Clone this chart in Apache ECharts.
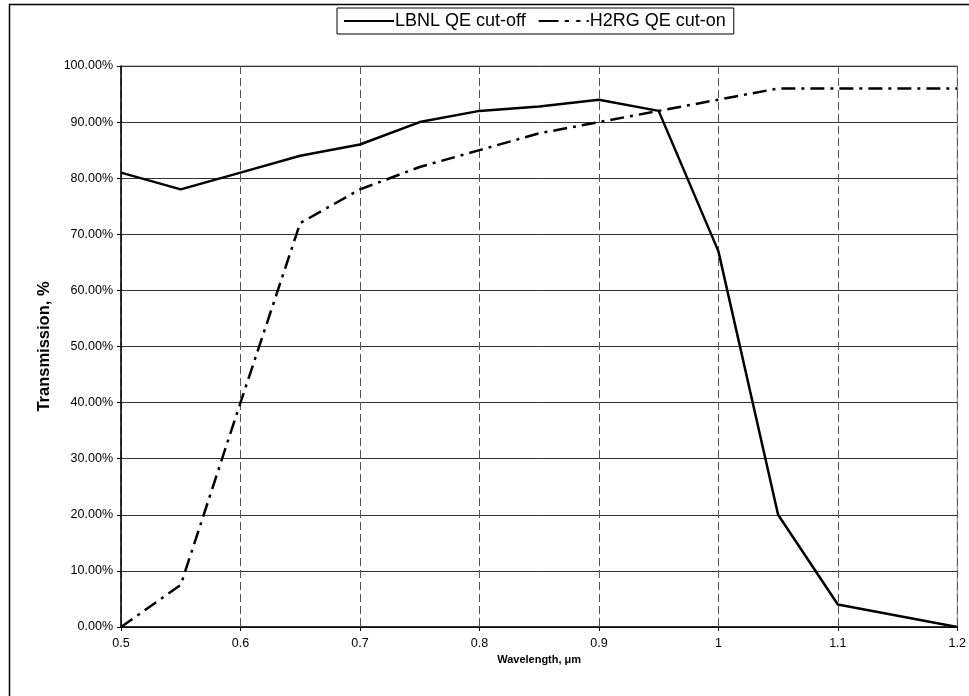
<!DOCTYPE html>
<html>
<head>
<meta charset="utf-8">
<script src="https://cdn.jsdelivr.net/npm/echarts@6/dist/echarts.min.js"></script>
<style>
    html, body { margin: 0; padding: 0; background: #fff; }
    #chart { width: 969px; height: 696px; }
</style>
</head>
<body>
<div id="chart"></div>
<script>
// wavelength in micrometres
const wavelength = [0.5, 0.55, 0.6, 0.65, 0.7, 0.75, 0.8, 0.85, 0.9, 0.95, 1.0, 1.05, 1.1, 1.2];
const lbnlCutOff = [81, 78, 81, 84, 86, 90, 92, 92.8, 94, 92, 67, 20, 4, 0];

const h2rgWave = [0.5, 0.55, 0.6, 0.65, 0.7, 0.75, 0.8, 0.85, 0.9, 0.95, 1.0, 1.05, 1.1, 1.15, 1.2];
const h2rgCutOn = [0, 7.5, 40, 72, 78, 82, 85, 88, 90, 92, 94, 96, 96, 96, 96];

const seriesNames = ['LBNL QE cut-off', 'H2RG QE cut-on'];

const pairs = (xs, ys) => xs.map((x, i) => [x, ys[i]]);

const chart = echarts.init(document.getElementById('chart'));

const option = {
    animation: false,
    textStyle: { fontFamily: '"Liberation Sans", Arial, sans-serif', color: '#000' },
    graphic: [{
        type: 'rect',
        shape: { x: 9.5, y: 4.5, width: 1100, height: 1100 },
        style: { fill: 'none', stroke: '#000', lineWidth: 1.5 },
        silent: true
    }],
    legend: {
        top: 8,
        left: 337,
        data: [
            { name: seriesNames[0], icon: 'path://M0,0h48v2h-48z' },
            { name: seriesNames[1], icon: 'path://M0,0h19v2h-19z M25,0h4v2h-4z M36,0h4v2h-4z M46,0h2v2h-2z' }
        ],
        itemWidth: 50,
        itemHeight: 2.5,
        itemGap: 13,
        padding: [4, 8, 4, 7],
        borderColor: '#000',
        borderWidth: 1,
        textStyle: { fontSize: 18, color: '#000', padding: [0, 0, 0, -4] }
    },
    grid: {
        left: 121,
        right: 11,
        top: 66,
        bottom: 69,
        show: true,
        borderColor: '#888',
        borderWidth: 1
    },
    xAxis: {
        type: 'value',
        min: 0.5,
        max: 1.2,
        interval: 0.1,
        name: 'Wavelength, μm',
        nameLocation: 'middle',
        nameGap: 27,
        nameTextStyle: { fontSize: 11, fontWeight: 'bold', color: '#000' },
        axisLine: { lineStyle: { color: '#000', width: 1.5 } },
        axisTick: { show: true, length: 4, lineStyle: { color: '#000' } },
        axisLabel: { fontSize: 12.5, color: '#000', margin: 10 },
        splitLine: { show: true, lineStyle: { color: '#555', type: [8, 4], width: 1 } }
    },
    yAxis: {
        type: 'value',
        min: 0,
        max: 100,
        interval: 10,
        name: 'Transmission, %',
        nameLocation: 'middle',
        nameGap: 68,
        nameTextStyle: { fontSize: 16.5, fontWeight: 'bold', color: '#000' },
        axisLine: { show: true, lineStyle: { color: '#000', width: 1.5 } },
        axisTick: { show: true, length: 4, lineStyle: { color: '#000' } },
        axisLabel: {
            fontSize: 12.5,
            color: '#000',
            margin: 8,
            formatter: v => v.toFixed(2) + '%'
        },
        splitLine: { show: true, lineStyle: { color: '#333', width: 1 } }
    },
    series: [
        {
            name: seriesNames[0],
            type: 'line',
            data: pairs(wavelength, lbnlCutOff),
            symbol: 'none',
            lineStyle: { color: '#000', width: 2.5 },
            itemStyle: { color: '#000' }
        },
        {
            name: seriesNames[1],
            type: 'line',
            data: pairs(h2rgWave, h2rgCutOn),
            symbol: 'none',
            lineStyle: { color: '#000', width: 2.5, type: [14, 6, 3, 6] },
            itemStyle: { color: '#000' }
        }
    ]
};

chart.setOption(option);
</script>
</body>
</html>
